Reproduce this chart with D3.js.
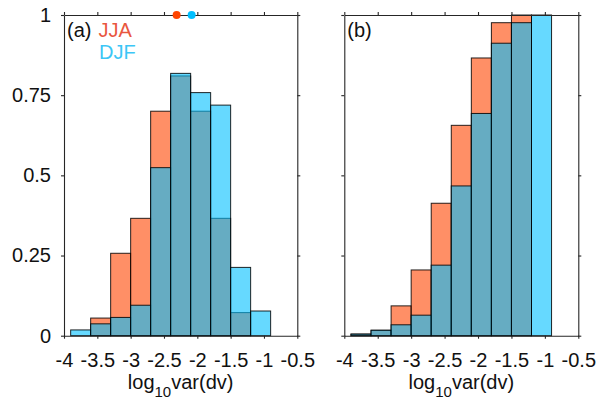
<!DOCTYPE html>
<html>
<head>
<meta charset="utf-8">
<script src="https://cdn.jsdelivr.net/npm/d3@7"></script>
<style>
  body { margin: 0; background: #fff; }
  svg { display: block; font-family: "Liberation Sans", Arial, Helvetica, sans-serif; }
</style>
</head>
<body>
<svg id="chart" width="597" height="402"></svg>
<script>
// ---- data ----
const binEdges = [-3.9, -3.6, -3.3, -3.0, -2.7, -2.4, -2.1, -1.8, -1.5, -1.2, -0.9];
const jjaA = [0, 0.055, 0.257, 0.366, 0.70, 0.81, 0.70, 0.366, 0.072, 0];
const djfA = [0.018, 0.037, 0.057, 0.095, 0.524, 0.818, 0.758, 0.719, 0.213, 0.077];
const jjaB = [0.005, 0.017, 0.093, 0.205, 0.413, 0.656, 0.866, 0.976, 1.0, 0];
const djfB = [0.005, 0.017, 0.034, 0.064, 0.220, 0.467, 0.693, 0.912, 0.976, 1.0];
const markers = [{season: "JJA", x: -2.31}, {season: "DJF", x: -2.085}];
const xTicks = [-4, -3.5, -3, -2.5, -2, -1.5, -1, -0.5];
const xTickLabels = ["-4", "-3.5", "-3", "-2.5", "-2", "-1.5", "-1", "-0.5"];
const yTicks = [0, 0.25, 0.5, 0.75, 1];
const yTickLabels = ["0", "0.25", "0.5", "0.75", "1"];
const seriesNames = ["JJA", "DJF"];

// ---- style ----
const barColors = {JJA: "#FF4500", DJF: "#00BFFF"};
const textColors = {JJA: "#E9573F", DJF: "#3CC6F6"};
const barAlpha = 0.6;
const axisColor = "#262626";
const fontSize = 20;

const svg = d3.select("#chart");
const y = d3.scaleLinear().domain([0, 1]).range([335.7, 15]);

const panels = [
  {id: "(a)", left: 64, right: 297.3, jja: jjaA, djf: djfA, yLabels: true, legend: true},
  {id: "(b)", left: 344.3, right: 578.3, jja: jjaB, djf: djfB, yLabels: false, legend: false}
];

panels.forEach(p => {
  const x = d3.scaleLinear().domain([-4, -0.5]).range([p.left, p.right]);
  const g = svg.append("g");

  const bins = binEdges.slice(0, -1).map((e, i) => ({x0: e, x1: binEdges[i + 1], i}));

  [["JJA", p.jja], ["DJF", p.djf]].forEach(([name, vals]) => {
    g.append("g").selectAll("rect")
      .data(bins.filter(b => vals[b.i] > 0))
      .join("rect")
      .attr("x", b => x(b.x0))
      .attr("width", b => x(b.x1) - x(b.x0))
      .attr("y", b => y(vals[b.i]))
      .attr("height", b => y(0) - y(vals[b.i]))
      .attr("fill", barColors[name])
      .attr("fill-opacity", barAlpha)
      .attr("stroke", "#000")
      .attr("stroke-opacity", 0.85)
      .attr("stroke-width", 1);
  });

  // axes (box with outward ticks)
  const bottom = d3.axisBottom(x).tickValues(xTicks)
    .tickFormat((d, i) => xTickLabels[i]).tickSize(3).tickSizeOuter(0).tickPadding(14);
  const top = d3.axisTop(x).tickValues(xTicks).tickFormat("").tickSize(3).tickSizeOuter(0);
  const left = d3.axisLeft(y).tickValues(yTicks)
    .tickFormat((d, i) => p.yLabels ? yTickLabels[i] : "").tickSize(3).tickSizeOuter(0).tickPadding(10);
  const right = d3.axisRight(y).tickValues(yTicks).tickFormat("").tickSize(3).tickSizeOuter(0);

  const gb = g.append("g").attr("transform", `translate(0,${y(0)})`).call(bottom);
  const gt = g.append("g").attr("transform", `translate(0,${y(1)})`).call(top);
  const gl = g.append("g").attr("transform", `translate(${p.left},0)`).call(left);
  const gr = g.append("g").attr("transform", `translate(${p.right},0)`).call(right);
  [gb, gt, gl, gr].forEach(a => {
    a.select(".domain").attr("stroke", axisColor).attr("stroke-width", 1.1);
    a.selectAll(".tick line").attr("stroke", axisColor).attr("stroke-width", 1.1);
    a.selectAll(".tick text").attr("fill", "#111").style("font-size", fontSize + "px")
      .style("font-family", "'Liberation Sans', Arial, sans-serif");
  });
  gb.selectAll(".tick text").attr("dy", "0.71em");

  // x label
  const xl = g.append("text")
    .attr("x", (p.left + p.right) / 2)
    .attr("y", 389)
    .attr("text-anchor", "middle")
    .attr("fill", "#111")
    .style("font-size", fontSize + "px");
  xl.append("tspan").text("log");
  xl.append("tspan").text("10").attr("dy", 8).style("font-size", "15px");
  xl.append("tspan").text("var(dv)").attr("dy", -8);

  // panel id
  g.append("text").attr("x", p.left + 3).attr("y", 37)
    .attr("fill", "#111").style("font-size", fontSize + "px").text(p.id);

  if (p.legend) {
    g.append("text").attr("x", p.left + 34.5).attr("y", 37)
      .attr("fill", textColors.JJA).style("font-size", fontSize + "px").text(seriesNames[0]);
    g.append("text").attr("x", p.left + 35).attr("y", 59)
      .attr("fill", textColors.DJF).style("font-size", fontSize + "px").text(seriesNames[1]);
    g.append("g").selectAll("circle")
      .data(markers)
      .join("circle")
      .attr("cx", d => x(d.x))
      .attr("cy", y(1))
      .attr("r", 4)
      .attr("fill", d => barColors[d.season]);
  }
});
</script>
</body>
</html>
